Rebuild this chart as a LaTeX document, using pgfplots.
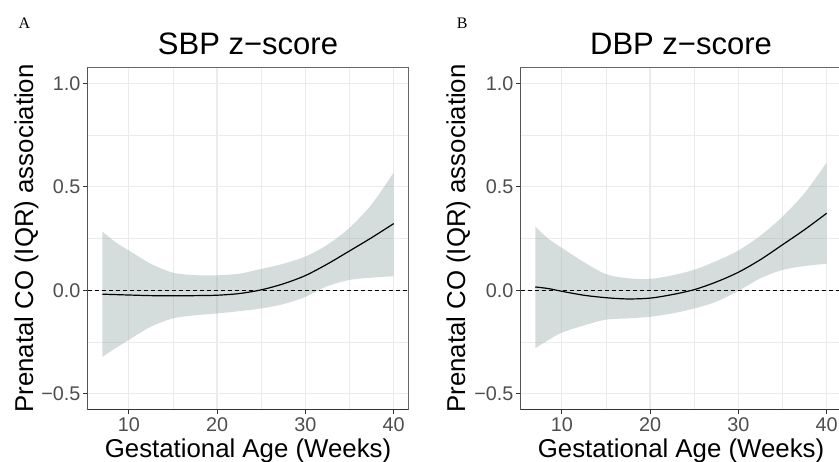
\documentclass[border=0pt]{standalone}
\usepackage{fontspec}
\setmainfont{Liberation Sans}
\newfontfamily\seriffont{Liberation Serif}
\usepackage{pgfplots}
\usepackage{pgfplotstable}
\pgfplotsset{compat=1.18}
\usepgfplotslibrary{fillbetween}

\definecolor{gridc}{HTML}{EBEBEB}
\definecolor{framec}{HTML}{333333}
\definecolor{tickc}{HTML}{4D4D4D}
\definecolor{ribbon}{HTML}{94A8A8}

\pgfplotstableread{
x     lo      up     fit
7    -0.322  0.284  -0.019
8.5  -0.280  0.232  -0.021
10   -0.240  0.192  -0.023
12.5 -0.176  0.128  -0.026
15   -0.136  0.085  -0.027
17.5 -0.121  0.073  -0.026
20   -0.112  0.072  -0.024
22.5 -0.101  0.080  -0.016
25   -0.088  0.103   0.002
27.5 -0.067  0.128   0.031
30   -0.032  0.163   0.071
32.5  0.020  0.220   0.127
35    0.050  0.302   0.190
37.5  0.061  0.415   0.254
40    0.068  0.569   0.322
}\dataA

\pgfplotstableread{
x     lo      up     fit
7    -0.280  0.308   0.016
8.5  -0.240  0.248   0.008
10   -0.205  0.205  -0.005
12.5 -0.170  0.136  -0.024
15   -0.142  0.078  -0.036
17.5 -0.136  0.058  -0.042
20   -0.128  0.055  -0.038
22.5 -0.112  0.072  -0.021
25   -0.088  0.099   0.003
27.5 -0.055  0.141   0.040
30   -0.003  0.192   0.087
32.5  0.058  0.264   0.148
35    0.098  0.356   0.220
37.5  0.117  0.470   0.293
40    0.128  0.617   0.372
}\dataB

\pgfplotsset{panel/.style={
  scale only axis, width=320.6pt, height=341.6pt,
  xmin=5.35, xmax=41.65, ymin=-0.575, ymax=1.075,
  xtick={10,20,30,40}, ytick={-0.5,0,0.5,1},
  xticklabels={10,20,30,40}, yticklabels={−0.5,0.0,0.5,1.0},
  minor xtick={15,25,35}, minor ytick={-0.25,0.25,0.75},
  grid=both,
  major grid style={gridc, line width=1.2pt},
  minor grid style={gridc, line width=0.7pt},
  tick align=outside, major tick length=5pt, minor tick length=0pt,
  xtick pos=bottom, ytick pos=left,
  tick style={framec, line width=0.9pt},
  axis line style={framec!75, line width=0.9pt},
  ticklabel style={font=\fontsize{19.8}{19.8}\selectfont, text=tickc},
  xticklabel style={anchor=north, inner sep=0pt, yshift=-3pt},
  yticklabel style={anchor=east, inner sep=0pt, xshift=-2pt},
}}

\begin{document}
\begin{tikzpicture}[x=1pt,y=1pt]
\begin{axis}[panel, at={(87.7pt,52.7pt)}, anchor=south west]
  \addplot[draw=none, smooth, name path=Aup] table[x=x,y=up] {\dataA};
  \addplot[draw=none, smooth, name path=Alo] table[x=x,y=lo] {\dataA};
  \addplot[fill=ribbon, fill opacity=0.4, draw=none] fill between[of=Aup and Alo];
  \addplot[black, dash pattern=on 4pt off 3pt, line width=1pt] coordinates {(5.35,0) (41.65,0)};
  \addplot[black, smooth, line width=1.2pt] table[x=x,y=fit] {\dataA};
  \draw[framec, line width=1.1pt] (rel axis cs:0,1) -- (rel axis cs:0,0) -- (rel axis cs:1,0);
\end{axis}
\begin{axis}[panel, at={(520.7pt,52.7pt)}, anchor=south west]
  \addplot[draw=none, smooth, name path=Bup] table[x=x,y=up] {\dataB};
  \addplot[draw=none, smooth, name path=Blo] table[x=x,y=lo] {\dataB};
  \addplot[fill=ribbon, fill opacity=0.4, draw=none] fill between[of=Bup and Blo];
  \addplot[black, dash pattern=on 4pt off 3pt, line width=1pt] coordinates {(5.35,0) (41.65,0)};
  \addplot[black, smooth, line width=1.2pt] table[x=x,y=fit] {\dataB};
  \draw[framec, line width=1.1pt] (rel axis cs:0,1) -- (rel axis cs:0,0) -- (rel axis cs:1,0);
\end{axis}
% panel letters
\node[anchor=base west, inner sep=0pt, font=\seriffont\fontsize{16}{16}\selectfont] at (18.3,433.7) {A};
\node[anchor=base west, inner sep=0pt, font=\seriffont\fontsize{16}{16}\selectfont] at (456.7,433.7) {B};
% titles
\node[anchor=base, inner sep=0pt, font=\fontsize{31}{31}\selectfont] at (248,407) {SBP z−score};
\node[anchor=base, inner sep=0pt, font=\fontsize{31}{31}\selectfont] at (681,407) {DBP z−score};
% x labels
\node[anchor=base, inner sep=0pt, font=\fontsize{25.8}{25.8}\selectfont] at (248,4.3) {Gestational Age (Weeks)};
\node[anchor=base, inner sep=0pt, font=\fontsize{25.8}{25.8}\selectfont] at (681,4.3) {Gestational Age (Weeks)};
% y labels
\node[anchor=base, rotate=90, inner sep=0pt, font=\fontsize{25.8}{25.8}\selectfont] at (33,223.5) {Prenatal CO (IQR) association};
\node[anchor=base, rotate=90, inner sep=0pt, font=\fontsize{25.8}{25.8}\selectfont] at (465,223.5) {Prenatal CO (IQR) association};
\pgfresetboundingbox
\path[use as bounding box] (0,0) rectangle (839,462);
\end{tikzpicture}
\end{document}
